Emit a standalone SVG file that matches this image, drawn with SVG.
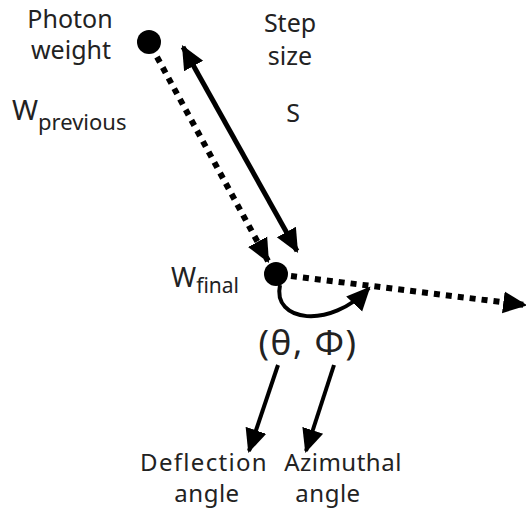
<svg xmlns="http://www.w3.org/2000/svg" width="526" height="513" viewBox="0 0 526 513">
<defs>
<style>
text{font-family:"Noto Sans","Open Sans",sans-serif;fill:#222;}
.lbl{font-size:25px;text-anchor:middle;}
.bot{font-size:24px;text-anchor:middle;}
.dot{stroke:#000;stroke-width:6;stroke-dasharray:6 6;fill:none;}
.solid{stroke:#000;stroke-width:5;fill:none;}
.thin{stroke:#000;stroke-width:4;fill:none;}
</style>
<marker id="ah" markerUnits="userSpaceOnUse" markerWidth="24" markerHeight="24" refX="20" refY="10" orient="auto-start-reverse" viewBox="0 0 22 20">
<path d="M0,0 L22,10 L0,20 Z" fill="#000"/>
</marker>
</defs>
<rect width="526" height="513" fill="#fff"/>
<g id="photon-weight">
<text class="lbl"><tspan x="70" y="28">Photon</tspan><tspan x="71" y="59">weight</tspan></text>
<text x="12" y="120" font-size="28">W<tspan font-size="22" dy="10">previous</tspan></text>
</g>
<g id="step-size">
<text class="lbl"><tspan x="290" y="32">Step</tspan><tspan x="290" y="65">size</tspan></text>
<text class="lbl" x="293" y="122">S</text>
</g>
<g id="start-dot"><circle cx="149" cy="42" r="12" fill="#000"/></g>
<g id="end-dot"><circle cx="276" cy="274" r="12" fill="#000"/>
<text x="171" y="287" font-size="27">W<tspan font-size="21" dy="6">final</tspan></text>
</g>
<g id="angles">
<text x="308" y="355" font-size="35" letter-spacing="1.5" text-anchor="middle">(θ, Φ)</text>
<text class="bot" x="204" y="471" letter-spacing="1.3">Deflection</text>
<text class="bot" x="207" y="502" letter-spacing="0.5">angle</text>
<text class="bot" x="343" y="471" letter-spacing="0.5">Azimuthal</text>
<text class="bot" x="328" y="502" letter-spacing="0.5">angle</text>
</g>
<g id="connectors">
<line class="dot" x1="157" y1="57" x2="268" y2="261" marker-end="url(#ah)"/>
<line class="solid" x1="183" y1="47" x2="297" y2="251" marker-start="url(#ah)" marker-end="url(#ah)"/>
<line class="dot" x1="291" y1="276" x2="525" y2="305" marker-end="url(#ah)"/>
<path class="thin" d="M280,285 C272,322 330,330 369,288" marker-end="url(#ah)"/>
<line class="thin" x1="278" y1="365" x2="249" y2="451" marker-end="url(#ah)"/>
<line class="thin" x1="334" y1="365" x2="306" y2="451" marker-end="url(#ah)"/>
</g>
</svg>
